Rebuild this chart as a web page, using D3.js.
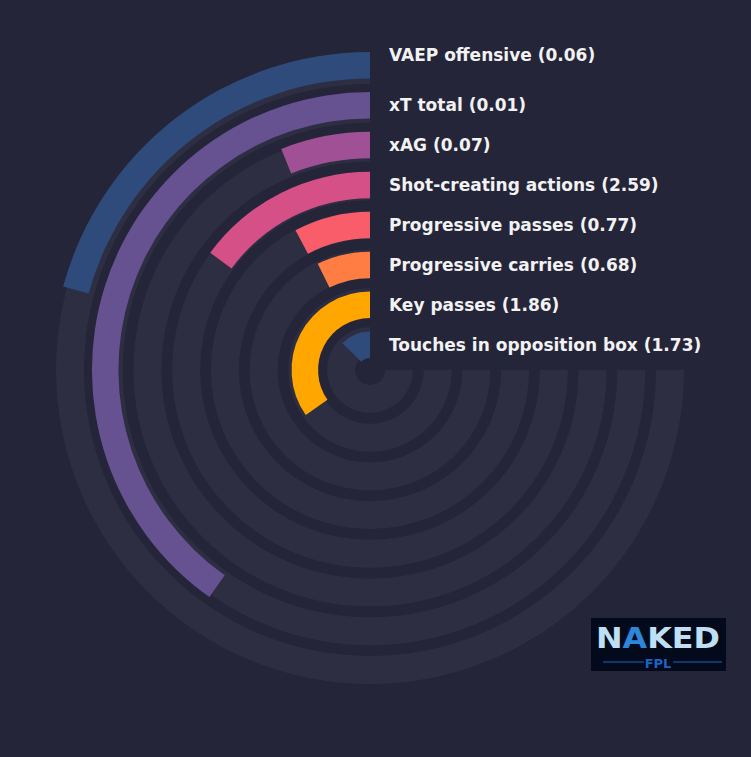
<!DOCTYPE html>
<html>
<head>
<meta charset="utf-8">
<script src="https://cdn.jsdelivr.net/npm/d3@7"></script>
<style>
  html, body { margin: 0; padding: 0; background: #252539; }
  svg { display: block; }
</style>
</head>
<body>
<div class="radial"></div>
<script>
// metrics from the inside ring out
const metrics = ["Touches in opposition box", "Key passes", "Progressive carries",
  "Progressive passes", "Shot-creating actions", "xAG", "xT total", "VAEP offensive"]
const rawValues = [1.73, 1.86, 0.68, 0.77, 2.59, 0.07, 0.01, 0.06]
// bar length as a share of the full 270 degree track
const percentiles = [17, 46.3, 9.7, 10.4, 19.9, 8.1, 53.6, 27.7]
const palette = ["#2f4b7c", "#665191", "#a05195", "#d45087", "#f95d6a", "#ff7c43", "#ffa600"]

const width = 751
const height = 757
const cx = 370, cy = 370

const svg = d3.select(".radial").append("svg")
  .attr("width", width)
  .attr("height", height)

svg.append("rect").attr("width", width).attr("height", height).attr("fill", "#252539")

const g = svg.append("g").attr("transform", "translate(" + cx + "," + cy + ")")

const idx = d3.range(metrics.length)

// angle scale: 0..100 -> 0..270 deg, drawn counter-clockwise from 12 o'clock
const angle = d3.scaleLinear().domain([0, 100]).range([0, -1.5 * Math.PI])

const trackR = d3.scaleLinear().domain([0, 7]).range([15, 286])
const barR = d3.scaleLinear().domain([0, 7]).range([12, 291.5])
const trackW = 28, barW = 26.5

const arc = d3.arc()

g.selectAll(".track")
  .data(idx)
  .enter()
  .append("path")
  .attr("class", "track")
  .attr("fill", "#2e2e43")
  .attr("d", function(i) {
    return arc({innerRadius: trackR(i), outerRadius: trackR(i) + trackW,
      startAngle: angle(100), endAngle: angle(0)})
  })

g.selectAll(".bar")
  .data(idx)
  .enter()
  .append("path")
  .attr("class", "bar")
  .attr("fill", function(i) { return palette[(metrics.length - 1 - i) % palette.length] })
  .attr("d", function(i) {
    return arc({innerRadius: barR(i), outerRadius: barR(i) + barW,
      startAngle: angle(percentiles[i]), endAngle: angle(0)})
  })

// labels to the right of the bar tops
g.selectAll(".label")
  .data(idx)
  .enter()
  .append("text")
  .attr("class", "label")
  .attr("x", 19)
  .attr("y", function(i) {
    const y = -(barR(i) + barW / 2)
    return i === metrics.length - 1 ? y - 10 : y
  })
  .attr("dy", "0.35em")
  .attr("fill", "#f2f2f2")
  .style("font-family", "DejaVu Sans")
  .style("font-weight", "bold")
  .style("font-size", "17px")
  .text(function(i) { return metrics[i] + " (" + rawValues[i].toFixed(2) + ")" })

// logo
const logo = svg.append("g").attr("transform", "translate(591,618)")
logo.append("rect").attr("width", 135).attr("height", 53).attr("fill", "#020a1c")
const word = logo.append("text")
  .attr("x", 67)
  .attr("y", 30)
  .attr("text-anchor", "middle")
  .style("font-family", "DejaVu Sans")
  .style("font-weight", "bold")
  .style("font-size", "28px")
  .attr("textLength", 124)
  .attr("lengthAdjust", "spacingAndGlyphs")
word.append("tspan").attr("fill", "#bfe0f4").text("N")
word.append("tspan").attr("fill", "#2c86dc").text("A")
word.append("tspan").attr("fill", "#bfe0f4").text("KED")
logo.append("text")
  .attr("x", 67)
  .attr("y", 50)
  .attr("text-anchor", "middle")
  .attr("fill", "#1f62c4")
  .style("font-family", "DejaVu Sans")
  .style("font-weight", "bold")
  .style("font-size", "13px")
  .text("FPL")
logo.append("line").attr("x1", 12).attr("x2", 53).attr("y1", 44).attr("y2", 44)
  .attr("stroke", "#1f62c4").attr("stroke-width", 1)
logo.append("line").attr("x1", 82).attr("x2", 131).attr("y1", 44).attr("y2", 44)
  .attr("stroke", "#1f62c4").attr("stroke-width", 1)
</script>
</body>
</html>
